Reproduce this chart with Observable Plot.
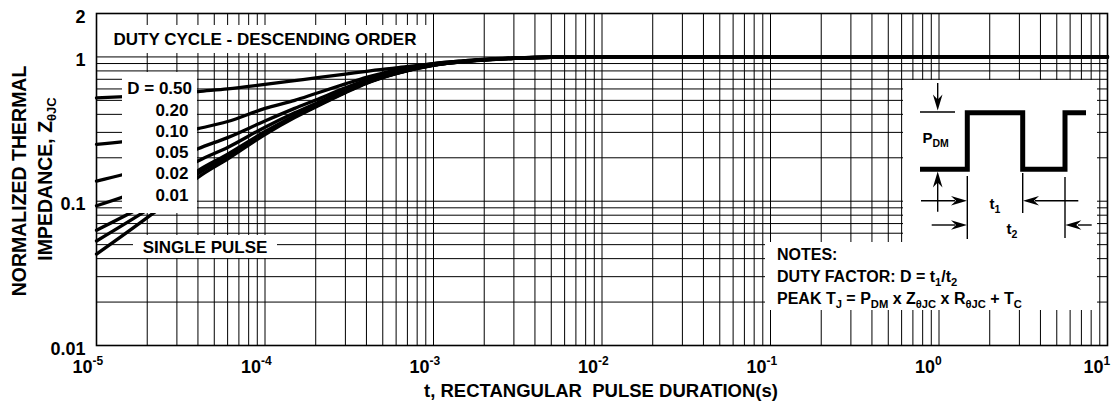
<!DOCTYPE html>
<html><head><meta charset="utf-8">
<script src="https://cdn.jsdelivr.net/npm/d3@7"></script>
<script src="https://cdn.jsdelivr.net/npm/@observablehq/plot@0.6"></script>
<style>
html,body{margin:0;padding:0;background:#fff;}
#chart{width:1119px;height:402px;overflow:hidden;}
</style></head><body><div id="chart"></div>
<script>
// ---- data ----
const times = [1e-5,2e-5,3e-5,4e-5,6e-5,1e-4,1.5e-4,2e-4,3e-4,4e-4,6e-4,1e-3,1.5e-3,2e-3,3e-3,5e-3,1e-2,1e1];
const seriesNames = ["0.50","0.20","0.10","0.05","0.02","0.01","SINGLE PULSE"];
const zD050 = [0.52,0.54,0.556,0.575,0.60,0.645,0.685,0.715,0.76,0.795,0.84,0.90,0.94,0.96,0.98,0.995,1,1];
const zD020 = [0.248,0.272,0.295,0.318,0.357,0.44,0.50,0.558,0.65,0.722,0.81,0.90,0.94,0.962,0.982,0.996,1,1];
const zD010 = [0.138,0.17,0.199,0.231,0.276,0.36,0.44,0.503,0.61,0.69,0.788,0.887,0.932,0.957,0.98,0.996,1,1];
const zD005 = [0.093,0.124,0.155,0.19,0.236,0.326,0.41,0.476,0.587,0.672,0.777,0.881,0.929,0.954,0.979,0.995,1,1];
const zD002 = [0.063,0.096,0.128,0.163,0.212,0.304,0.392,0.46,0.574,0.662,0.77,0.878,0.927,0.953,0.979,0.995,1,1];
const zD001 = [0.053,0.087,0.119,0.155,0.204,0.297,0.386,0.455,0.57,0.66,0.768,0.877,0.926,0.953,0.978,0.995,1,1];
const zSingle = [0.043,0.077,0.11,0.146,0.196,0.29,0.38,0.45,0.565,0.655,0.765,0.875,0.925,0.952,0.978,0.995,1,1];
const xMajorTicks = [1e-5,1e-4,1e-3,1e-2,1e-1,1,10];
const xTickExponents = ["-5","-4","-3","-2","-1","0","1"];
const yTickValues = [2,1,0.1,0.01];
const yTickLabels = ["2","1","0.1","0.01"];
const legendLabels = ["D = 0.50","0.20","0.10","0.05","0.02","0.01"];

// ---- build tables ----
const allSeries = [zD050,zD020,zD010,zD005,zD002,zD001,zSingle];
const data = seriesNames.flatMap((name,i)=>times.map((t,j)=>({t, z: allSeries[i][j], name})));
const xGrid = [];
for (let d=-5; d<=0; d++) for (let k=1; k<=9; k++) xGrid.push(k*Math.pow(10,d));
xGrid.push(10);
const yGrid = [];
for (let d=-2; d<=-1; d++) for (let k=1; k<=9; k++) yGrid.push(k*Math.pow(10,d));
yGrid.push(1);

const FONT = "'Liberation Sans', Arial, Helvetica, sans-serif";

const plot = Plot.plot({
  width: 1119, height: 402,
  marginLeft: 96, marginRight: 12, marginTop: 13, marginBottom: 57,
  style: {fontFamily: FONT, background: "#fff", color: "#000"},
  x: {type: "log", domain: [1e-5, 10], axis: null},
  y: {type: "log", domain: [0.01, 2], axis: null},
  marks: [
    Plot.ruleX(xGrid, {x: d=>d, stroke: "#000", strokeWidth: 1}),
    Plot.ruleY(yGrid, {y: d=>d, stroke: "#000", strokeWidth: 1}),
    Plot.line(data, {x: "t", y: "z", z: "name", stroke: "#000", strokeWidth: 3.3, curve: "monotone-x"}),
    Plot.frame({stroke: "#000", strokeWidth: 1.6}),
    Plot.text(xMajorTicks, {x: d=>d, frameAnchor: "bottom", text: ()=>"10", textAnchor: "end", dx: -4, dy: 27, fontSize: 18, fontWeight: "bold", fill: "#000"}),
    Plot.text(xMajorTicks, {x: d=>d, frameAnchor: "bottom", text: (d,i)=>xTickExponents[i], textAnchor: "start", dx: -4, dy: 19, fontSize: 12, fontWeight: "bold", fill: "#000"}),
    Plot.text(yTickValues, {y: d=>d, frameAnchor: "left", text: (d,i)=>yTickLabels[i], textAnchor: "end", dx: -11, dy: 3.5, fontSize: 18, fontWeight: "bold", fill: "#000"})
  ]
});
document.getElementById("chart").append(plot);

// ---- annotations ----
const svg = d3.select(plot);
const ann = svg.append("g").attr("font-family", FONT).attr("font-weight", "bold").attr("fill", "#000");
function box(x, y, w, h) {
  ann.append("rect").attr("x", x).attr("y", y).attr("width", w).attr("height", h).attr("fill", "#fff");
}
function rich(parent, x, y, parts, size, anchor) {
  const t = parent.append("text").attr("x", x).attr("y", y).attr("font-size", size).attr("text-anchor", anchor || "start");
  let shifted = 0;
  parts.forEach(p => {
    const [txt, sub] = Array.isArray(p) ? p : [p, false];
    const target = sub ? 4 : 0;
    const ts = t.append("tspan").text(txt).attr("dy", target - shifted);
    if (sub) ts.attr("font-size", size * 0.7);
    shifted = target;
  });
  return t;
}

// boxes
box(97.5, 25, 333, 28);
box(122, 72, 75, 141);
box(133, 235, 144, 23);
box(903, 80, 194, 164);
box(765, 242, 332, 68);

// titles inside chart
ann.append("text").attr("x", 265).attr("y", 45.2).attr("font-size", 17).attr("text-anchor", "middle").text("DUTY CYCLE - DESCENDING ORDER");
const legendY = [94.4, 116.1, 137.1, 158.4, 179.4, 201.1];
legendLabels.forEach((lab, i) => {
  ann.append("text").attr("x", i === 0 ? 192 : 188.5).attr("y", legendY[i]).attr("font-size", 17).attr("text-anchor", "end").text(lab);
});
ann.append("text").attr("x", 205).attr("y", 252.6).attr("font-size", 17).attr("text-anchor", "middle").text("SINGLE PULSE");

// notes
rich(ann, 777, 259.5, ["NOTES:"], 16);
rich(ann, 777, 282.2, ["DUTY FACTOR: D = t", ["1", true], "/t", ["2", true]], 16);
rich(ann, 777, 303.5, ["PEAK T", ["J", true], " = P", ["DM", true], " x Z", ["θJC", true], " x R", ["θJC", true], " + T", ["C", true]], 16);

// inset pulse diagram
const dg = ann.append("g");
dg.append("path").attr("d", "M920,169.3H967.3V112.7H1022.7V169.3H1065V112.7H1086")
  .attr("fill", "none").attr("stroke", "#000").attr("stroke-width", 5).attr("stroke-linejoin", "miter");
function seg(x1, y1, x2, y2) {
  dg.append("line").attr("x1", x1).attr("y1", y1).attr("x2", x2).attr("y2", y2).attr("stroke", "#000").attr("stroke-width", 1.4);
}
function head(tipx, tipy, dir) {
  const L = 16, W = 4.8;
  let pts;
  if (dir === "down") pts = [[tipx, tipy], [tipx - W, tipy - L], [tipx, tipy - L + 5], [tipx + W, tipy - L]];
  if (dir === "up") pts = [[tipx, tipy], [tipx - W, tipy + L], [tipx, tipy + L - 5], [tipx + W, tipy + L]];
  if (dir === "right") pts = [[tipx, tipy], [tipx - L, tipy - W], [tipx - L + 5, tipy], [tipx - L, tipy + W]];
  if (dir === "left") pts = [[tipx, tipy], [tipx + L, tipy - W], [tipx + L - 5, tipy], [tipx + L, tipy + W]];
  dg.append("path").attr("d", "M" + pts.map(p => p.join(",")).join("L") + "Z").attr("fill", "#000");
}
seg(920, 112, 955, 112);
seg(937.7, 83, 937.7, 100); head(937.7, 110.5, "down");
seg(937.7, 180, 937.7, 211.7); head(937.7, 171.5, "up");
seg(967.3, 176, 967.3, 239);
seg(1022.7, 173, 1022.7, 213);
seg(1065, 177, 1065, 238);
seg(921, 200.7, 955, 200.7); head(967, 200.7, "right");
seg(1035, 200.7, 1078.3, 200.7); head(1023, 200.7, "left");
seg(931.7, 225, 955, 225); head(967, 225, "right");
seg(1078, 225, 1091.7, 225); head(1065.3, 225, "left");
rich(dg, 922.5, 143, ["P", ["DM", true]], 15);
rich(dg, 989.5, 208.5, ["t", ["1", true]], 15);
rich(dg, 1006.5, 233.5, ["t", ["2", true]], 15);

// axis titles
ann.append("text").attr("transform", "translate(25.5,181) rotate(-90)").attr("font-size", 19.5).attr("text-anchor", "middle").text("NORMALIZED THERMAL");
const yt2 = ann.append("text").attr("transform", "translate(52,179) rotate(-90)").attr("font-size", 19.5).attr("text-anchor", "middle");
yt2.append("tspan").text("IMPEDANCE, Z");
yt2.append("tspan").text("θJC").attr("font-size", 13).attr("dy", 4);
ann.append("text").attr("x", 601).attr("y", 397).attr("font-size", 18.5).attr("text-anchor", "middle").text("t, RECTANGULAR  PULSE DURATION(s)");

svg.select('[aria-label="frame"]').raise();
</script></body></html>
